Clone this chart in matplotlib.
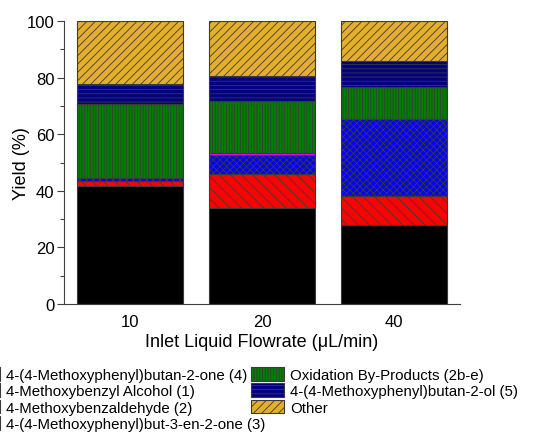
import matplotlib
matplotlib.use("Agg")
import matplotlib.pyplot as plt
import numpy as np

plt.rcParams['font.family'] = ['Liberation Sans', 'DejaVu Sans']
plt.rcParams['hatch.linewidth'] = 0.6

flowrates = ["10", "20", "40"]
series_names = [
    "4-(4-Methoxyphenyl)butan-2-one (4)",
    "4-Methoxybenzyl Alcohol (1)",
    "4-Methoxybenzaldehyde (2)",
    "4-(4-Methoxyphenyl)but-3-en-2-one (3)",
    "Oxidation By-Products (2b-e)",
    "4-(4-Methoxyphenyl)butan-2-ol (5)",
    "Other",
]
ketone4 = [41.8, 33.9, 28.0]
alcohol1 = [1.8, 12.1, 10.1]
aldehyde2 = [0.8, 6.6, 27.2]
enone3 = [0.1, 0.9, 0.1]
oxidation = [26.1, 18.1, 11.2]
butanol5 = [7.3, 8.8, 9.3]
other = [22.1, 19.6, 14.1]

colors = ["#000000", "#FF0000", "#0000FF", "#FF00FF", "#008000", "#000080", "#E6AE2E"]
hatches = [None, "\\\\\\", "xxxxx", None, "||||||", "----", "////"]

fig = plt.figure(figsize=(5.37, 4.39), dpi=100)
ax = fig.add_axes([64/537, 1-305/439, (460-64)/537, (305-22)/439])

data = [ketone4, alcohol1, aldehyde2, enone3, oxidation, butanol5, other]
x = np.arange(1, len(flowrates) + 1)
bottom = np.zeros(len(flowrates))
handles = []
for vals, name, c, h in zip(data, series_names, colors, hatches):
    b = ax.bar(x, vals, width=0.8, bottom=bottom, color=c, edgecolor="#3a3a3a",
               linewidth=0.8, hatch=h, label=name)
    handles.append(b)
    bottom += np.array(vals)

ax.set_xlim(0.5, 3.5)
ax.set_ylim(0, 100)
ax.set_xticks(x)
ax.set_xticklabels(flowrates)
ax.set_yticks(np.arange(0, 101, 20))
ax.set_yticks(np.arange(10, 100, 20), minor=True)
ax.tick_params(axis='x', length=0, pad=7, labelsize=12)
ax.tick_params(axis='y', which='major', length=5, width=0.8, direction='out', pad=2, labelsize=12, color="#404040")
ax.tick_params(axis='y', which='minor', length=3, width=0.8, direction='out', color="#404040")
for s in ["top", "right"]:
    ax.spines[s].set_visible(False)
for s in ["left", "bottom"]:
    ax.spines[s].set_color("#404040")
    ax.spines[s].set_linewidth(0.8)

ax.set_xlabel("Inlet Liquid Flowrate (μL/min)", fontsize=13, labelpad=3)
ax.set_ylabel("Yield (%)", fontsize=13)
ax.yaxis.set_label_coords(-0.085, 0.5)

fig.legend(handles=handles, labels=series_names, ncol=2, loc="upper left",
           bbox_to_anchor=(-33/537, 1-368/439), frameon=False, fontsize=10.8,
           borderpad=0, borderaxespad=0, handlelength=2.2, handleheight=1.05,
           handletextpad=0.4, labelspacing=0.08, columnspacing=-0.95)

fig.savefig("out.png", dpi=100)
